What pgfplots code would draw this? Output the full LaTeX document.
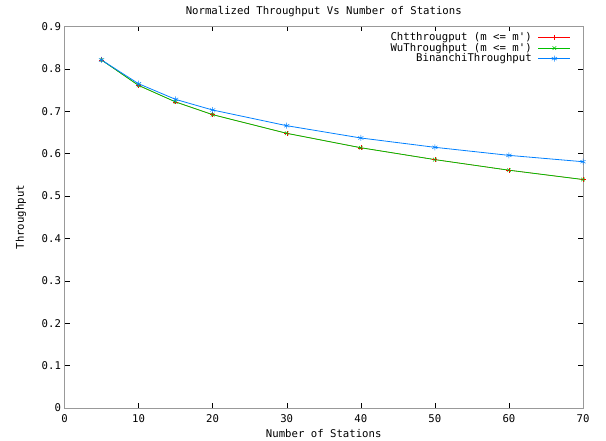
\documentclass[border=0pt]{standalone}
\usepackage{fontspec}
\setmainfont{DejaVu Sans Mono}
\usepackage{pgfplots}
\pgfplotsset{compat=1.18}

\definecolor{gpred}{HTML}{FF0000}
\definecolor{gpgreen}{HTML}{00C000}
\definecolor{gpblue}{HTML}{0080FF}

\begin{document}
\begin{tikzpicture}
  \begin{axis}[
      scale only axis,
      width=518.5bp, height=381.5bp,
      xmin=0, xmax=70, ymin=0, ymax=0.9,
      xtick={0,10,...,70},
      ytick={0,0.1,...,0.9},
      yticklabel style={/pgf/number format/fixed, /pgf/number format/precision=1},
      xticklabel style={yshift=-3bp},
      /pgf/number format/assume math mode=true,
      font=\fontsize{10.7}{11}\selectfont,
      tick style={black, thin},
      major tick length=5bp,
      tick align=inside,
      axis line style={gray!80},
      title={Normalized Throughput Vs Number of Stations},
      title style={at={(axis description cs:0.5,1.0385)}, anchor=center, yshift=-6pt},
      xlabel={Number of Stations},
      ylabel={Throughput},
      xlabel style={at={(axis description cs:0.5,-0.068)}, anchor=center},
      ylabel style={at={(axis description cs:-0.084,0.5)}, anchor=center},
      legend plot pos=right,
      legend cell align=right,
      legend image code/.code={
        \path (0cm,0cm);
        \draw[mark repeat=2, mark phase=2, #1]
          plot coordinates {(0.15cm,0cm) (0.715cm,0cm) (1.28cm,0cm)};},
      legend style={draw=none, fill=none, at={(1,1)}, anchor=north east,
        xshift=-9bp, yshift=-2bp, row sep=-3bp,
        font=\fontsize{10.7}{11}\selectfont},
    ]
    \addplot[gpred, line width=0.4bp, mark=+, mark size=2.5bp] coordinates {
      (5,0.821) (10,0.761) (15,0.722) (20,0.692) (30,0.648)
      (40,0.614) (50,0.586) (60,0.561) (70,0.539)
    };
    \addlegendentry{Chtthrougput (m <= m\textquotesingle)}
    \addplot[gpgreen, line width=0.8bp, mark=x, mark size=2.5bp,
      mark options={line width=0.5bp}] coordinates {
      (5,0.821) (10,0.761) (15,0.722) (20,0.692) (30,0.648)
      (40,0.614) (50,0.586) (60,0.561) (70,0.539)
    };
    \addlegendentry{WuThroughput (m <= m\textquotesingle)}
    \addplot[gpblue, line width=0.8bp, mark=asterisk, mark size=3bp,
      mark options={line width=0.5bp}] coordinates {
      (5,0.821) (10,0.765) (15,0.728) (20,0.703) (30,0.666)
      (40,0.637) (50,0.615) (60,0.596) (70,0.581)
    };
    \addlegendentry{BinanchiThroughput}
  \end{axis}
  \pgfresetboundingbox
  \useasboundingbox (current axis.south west) ++(-64.5bp,-33bp) rectangle ++(606bp,441bp);
\end{tikzpicture}
\end{document}
